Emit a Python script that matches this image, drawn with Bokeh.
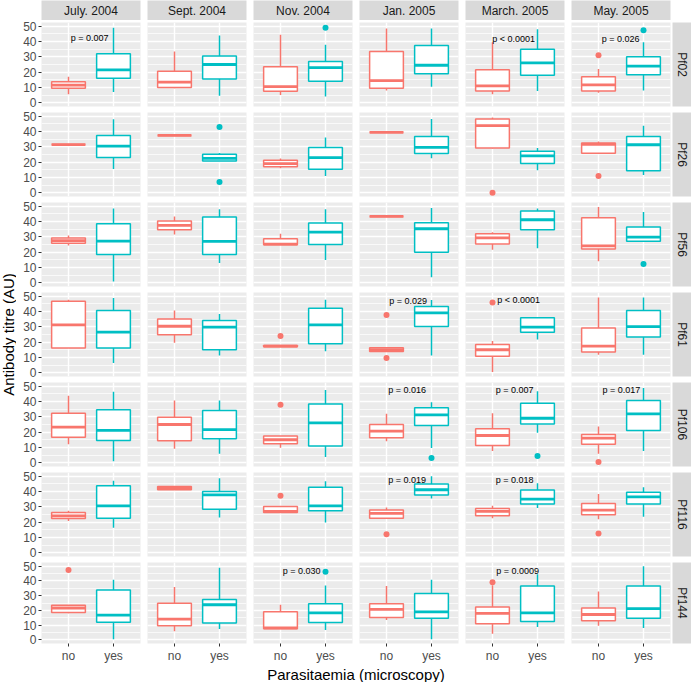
import math
from bokeh.plotting import figure
from bokeh.models import FactorRange, Range1d, SingleIntervalTicker, Label, ColumnDataSource
from bokeh.layouts import row, column, gridplot
from bokeh.embed import file_html
from bokeh.resources import INLINE
from bokeh.core.properties import value

# ---------------- data ----------------
months = ["July. 2004", "Sept. 2004", "Nov. 2004", "Jan. 2005", "March. 2005", "May. 2005"]
antigens = ["Pf02", "Pf26", "Pf56", "Pf61", "Pf106", "Pf116", "Pf144"]
groups = ["no", "yes"]

# five-number boxplot summaries per month: [lower whisker, Q1, median, Q3, upper whisker]
pf02_no = [[5.5, 9.5, 11.5, 13.7, 17], [9.5, 10, 13.5, 20.5, 33.5], [5, 7.5, 10.5, 23.5, 44.5],
           [8, 9.5, 14.5, 33.5, 48.5], [5.5, 7.7, 11, 21.5, 39.5], [6.5, 7.7, 11.7, 17, 22]]
pf02_yes = [[7, 16, 21.5, 32, 49], [4.5, 15.5, 25, 30.5, 44], [4, 14, 23, 27, 38],
            [10.5, 19, 24.5, 37.5, 48.5], [7.7, 18, 26, 35, 48], [8, 18.3, 24, 30, 39.5]]
pf26_no = [[31.5, 31.5, 31.5, 31.5, 31.5], [37.5, 37.5, 37.5, 37.5, 37.5], [16, 17, 19, 21.3, 22.4],
           [39.5, 39.5, 39.5, 39.5, 39.5], [29, 29.2, 43.9, 48.2, 49.3], [25.9, 25.9, 31.6, 32.5, 33.5]]
pf26_yes = [[15.5, 23, 30.5, 37.5, 48], [20.8, 20.8, 22.4, 25.2, 26], [11, 15.4, 23, 29.6, 36.2],
            [22.6, 25.7, 29.6, 36.8, 48.2], [14.7, 19.1, 24.1, 27.2, 29.2], [11.6, 14.3, 31.4, 36.8, 43.9]]
pf56_no = [[24.3, 25.9, 27.6, 29.2, 30.9], [31.6, 34.6, 37.5, 40.4, 43.4], [24.8, 24.8, 25.2, 28.7, 32],
           [43.4, 43.4, 43.4, 43.4, 43.4], [21.5, 25.4, 29.4, 32, 33.1], [14, 22.1, 24.1, 42.5, 49.6]]
pf56_yes = [[0.7, 18.4, 27.2, 38.6, 48.5], [12.9, 18.4, 27, 43, 48], [14.9, 25, 33.1, 39, 48],
            [3.5, 20, 35.3, 39.3, 48.9], [22.6, 34.6, 41.2, 46.9, 48.5], [27.2, 27.2, 29.8, 36.4, 46.3]]
pf61_no = [[16.1, 16.1, 31.3, 46.7, 47.8], [19.6, 24.8, 30.4, 35.2, 40.7], [17, 17, 17.4, 17.8, 17.8],
           [13.9, 13.9, 15, 16.3, 16.3], [0.4, 10.7, 15, 18.5, 20.7], [11.7, 13.5, 17.4, 29.3, 49.3]]
pf61_yes = [[6.3, 16.1, 26.5, 40.7, 48.9], [11.3, 15, 29.8, 34.1, 38.5], [14.1, 18.9, 31.3, 42.2, 47.8],
            [11.3, 30.2, 39.1, 43.3, 47.6], [21.7, 26.5, 29.8, 35.9, 35.9], [11.7, 23.3, 30.2, 40.7, 49.3]]
pf106_no = [[12, 16.7, 23.3, 32.4, 43.9], [9.1, 14.3, 25, 29.8, 40.7], [9.8, 12.4, 15, 17.4, 17.4],
            [14.1, 16.3, 20.7, 25, 32], [7.6, 11.3, 17.8, 22.2, 32.4], [5.9, 12, 16.1, 18.5, 23.7]]
pf106_yes = [[0.9, 14.6, 21.1, 34.6, 46.5], [5.9, 15.7, 21.7, 34.1, 40.7], [3.7, 10.9, 26.1, 38.5, 47.6],
             [9.6, 24.3, 31.3, 35.9, 39.6], [19.6, 25.4, 29.1, 38.9, 46.7], [7.6, 21.1, 32, 40.7, 48.9]]
pf116_no = [[20.8, 22.4, 24.1, 26.3, 27.4], [41.2, 41.2, 42.3, 43.4, 43.4], [26.3, 26.3, 27, 30.3, 30.3],
            [22.6, 22.6, 25.7, 27.9, 29.6], [22.6, 24.1, 27, 28.9, 30.7], [21.9, 24.8, 27.9, 32.2, 38.4]]
pf116_yes = [[16.4, 22.6, 30.7, 43.9, 47.1], [23, 28.5, 37.9, 40.1, 48.7], [19.7, 27.4, 30.7, 42.8, 46.7],
             [35.5, 37.7, 41.2, 45, 50], [29.2, 31.8, 35.1, 41, 45.4], [23.5, 31.8, 36.6, 39.5, 42.8]]
pf144_no = [[18, 18.6, 21.6, 23.4, 23.4], [5.9, 9.6, 14, 24.9, 35.8], [7.6, 7.6, 8.1, 19, 23.8],
            [13.5, 15.1, 20.7, 24.5, 36.5], [4.1, 10.9, 17.9, 22.3, 37], [9.6, 12.9, 17.2, 21.6, 32.8]]
pf144_yes = [[0.4, 12, 16.8, 33.8, 40.8], [7.4, 11.4, 23.8, 27.3, 48.9], [6.6, 11.8, 18.3, 24.5, 36.9],
             [0.4, 14.6, 19, 31.4, 40.8], [8.7, 12.4, 18.3, 36.5, 44.5], [8.1, 14.6, 21.2, 36.5, 50]]

# outliers
out_antigen = ["Pf02", "Pf02", "Pf02", "Pf26", "Pf26", "Pf26", "Pf26", "Pf56", "Pf61", "Pf61", "Pf61", "Pf61",
               "Pf106", "Pf106", "Pf106", "Pf106", "Pf116", "Pf116", "Pf116", "Pf144", "Pf144", "Pf144"]
out_month = ["Nov. 2004", "May. 2005", "May. 2005", "Sept. 2004", "Sept. 2004", "March. 2005", "May. 2005",
             "May. 2005", "Nov. 2004", "Jan. 2005", "Jan. 2005", "March. 2005",
             "Nov. 2004", "Jan. 2005", "March. 2005", "May. 2005", "Nov. 2004", "Jan. 2005", "May. 2005",
             "July. 2004", "Nov. 2004", "March. 2005"]
out_group = ["yes", "no", "yes", "yes", "yes", "no", "no", "yes", "no", "no", "no", "no",
             "no", "yes", "yes", "no", "no", "no", "no", "no", "yes", "no"]
out_value = [49, 31, 47.5, 43, 7, 0, 11, 12.3, 24, 37.8, 9.6, 46,
             38, 3, 4.3, 0.4, 37.3, 12, 12.5, 47.4, 46.3, 39.1]

# p-value annotations (x in category-axis units: 1.0 = midway between "no" and "yes")
p_antigen = ["Pf02", "Pf02", "Pf02", "Pf61", "Pf61", "Pf106", "Pf106", "Pf106", "Pf116", "Pf116", "Pf144", "Pf144"]
p_month = ["July. 2004", "March. 2005", "May. 2005", "Jan. 2005", "March. 2005", "Jan. 2005", "March. 2005",
           "May. 2005", "Jan. 2005", "March. 2005", "Nov. 2004", "March. 2005"]
p_text = ["p = 0.007", "p < 0.0001", "p = 0.026", "p = 0.029", "p < 0.0001", "p = 0.016", "p = 0.007",
          "p = 0.017", "p = 0.019", "p = 0.018", "p = 0.030", "p = 0.0009"]
p_x = [0.97, 0.97, 0.99, 0.98, 1.08, 0.96, 0.99, 1.01, 0.96, 0.99, 0.97, 1.06]
p_y = [42.5, 42, 42, 47, 47.5, 47.5, 47.5, 47.5, 47.8, 47.8, 46.5, 47]

summaries = {"Pf02": (pf02_no, pf02_yes), "Pf26": (pf26_no, pf26_yes), "Pf56": (pf56_no, pf56_yes),
             "Pf61": (pf61_no, pf61_yes), "Pf106": (pf106_no, pf106_yes), "Pf116": (pf116_no, pf116_yes),
             "Pf144": (pf144_no, pf144_yes)}

# ---------------- style ----------------
RED, TEAL = "#F8766D", "#00BFC4"
COLORS = {"no": RED, "yes": TEAL}
FONT = "Liberation Sans"
FW, FH = 99, 84
NR, NC = len(antigens), len(months)
STRIP_H, STRIP_W = 20, 19
YLAB_W, XLAB_H = 16, 17
LW, MW = 1.5, 2.8


def hb(c):
    left = 25 if c == 0 else 4
    right = 2 if c == NC - 1 else 3
    return left, right


def vb(r):
    top = 2 if r == 0 else 3
    bottom = 19 if r == NR - 1 else 3
    return top, bottom


def panel(r, c):
    ant, mon = antigens[r], months[c]
    l, rt = hb(c)
    t, b = vb(r)
    p = figure(width=l + FW + rt, height=t + FH + b,
               x_range=FactorRange(factors=groups, range_padding=0.1, range_padding_units="absolute"),
               y_range=Range1d(-2.5, 52.5), output_backend="svg", toolbar_location=None, tools="",
               title=None,
               x_axis_location="below" if r == NR - 1 else None,
               y_axis_location="left" if c == 0 else None,
               min_border_left=l, min_border_right=rt, min_border_top=t, min_border_bottom=b,
               background_fill_color="#EBEBEB", border_fill_color="white", outline_line_color=None)
    p.ygrid.ticker = SingleIntervalTicker(interval=10, num_minor_ticks=2)
    p.ygrid.grid_line_color = "white"
    p.ygrid.grid_line_width = 1.4
    p.ygrid.minor_grid_line_color = "white"
    p.ygrid.minor_grid_line_width = 0.7
    p.xgrid.grid_line_color = "white"
    p.xgrid.grid_line_width = 1.4
    for ax in list(p.yaxis) + list(p.xaxis):
        ax.axis_line_color = None
        ax.major_tick_line_color = "#333333"
        ax.major_tick_in = 0
        ax.major_tick_out = 3
        ax.minor_tick_line_color = None
        ax.major_label_text_font = FONT
        ax.major_label_text_font_size = "12px"
        ax.major_label_text_color = "#4D4D4D"
        ax.major_label_standoff = 2
    if c == 0:
        p.yaxis[0].ticker = SingleIntervalTicker(interval=10, num_minor_ticks=0)

    no_s, yes_s = summaries[ant]
    sno, syes = no_s[c], yes_s[c]
    src = ColumnDataSource(dict(
        g=groups,
        lw=[sno[0], syes[0]], q1=[sno[1], syes[1]], med=[sno[2], syes[2]],
        q3=[sno[3], syes[3]], uw=[sno[4], syes[4]], color=[RED, TEAL]))
    p.segment(x0="g", y0="q3", x1="g", y1="uw", line_color="color", line_width=LW, source=src)
    p.segment(x0="g", y0="lw", x1="g", y1="q1", line_color="color", line_width=LW, source=src)
    p.vbar(x="g", width=0.75, bottom="q1", top="q3", fill_color="white", line_color="color",
           line_width=LW, source=src)
    p.vbar(x="g", width=0.75, bottom="med", top="med", fill_color=None, line_color="color",
           line_width=MW, source=src)

    ox = [g for a, m, g in zip(out_antigen, out_month, out_group) if a == ant and m == mon]
    oy = [v for a, m, v in zip(out_antigen, out_month, out_value) if a == ant and m == mon]
    if ox:
        p.scatter(x=ox, y=oy, size=6, color=[COLORS[g] for g in ox], line_color=None)

    for a, m, t_, x_, y_ in zip(p_antigen, p_month, p_text, p_x, p_y):
        if a == ant and m == mon:
            p.text(x=[x_], y=[y_], text=[t_], text_font=value(FONT), text_font_size="9px",
                   text_align="center", text_baseline="middle", text_color="black")
    return p


def blank(width, height, l=0, rt=0, t=0, b=0, bg="white"):
    p = figure(width=width, height=height, x_range=Range1d(0, width - l - rt), y_range=Range1d(0, height - t - b),
               output_backend="svg", toolbar_location=None, tools="", title=None,
               x_axis_location=None, y_axis_location=None,
               min_border_left=l, min_border_right=rt, min_border_top=t, min_border_bottom=b,
               background_fill_color=bg, border_fill_color="white", outline_line_color=None)
    p.grid.visible = False
    return p


rows_ = []
top_row = []
for c, m in enumerate(months):
    l, rt = hb(c)
    s = blank(l + FW + rt, STRIP_H, l=l, rt=rt, bg="#D9D9D9")
    s.add_layout(Label(x=FW / 2, y=STRIP_H / 2, text=m, text_align="center", text_baseline="middle",
                       text_font=FONT, text_font_size="12px", text_color="#1A1A1A"))
    top_row.append(s)
top_row.append(None)
rows_.append(top_row)

for r, a in enumerate(antigens):
    rr = [panel(r, c) for c in range(NC)]
    t, b = vb(r)
    s = blank(STRIP_W, t + FH + b, t=t, b=b, bg="#D9D9D9")
    s.add_layout(Label(x=STRIP_W / 2, y=FH / 2, text=a, text_align="center", text_baseline="middle",
                       angle=-math.pi / 2, text_font=FONT, text_font_size="12px", text_color="#1A1A1A"))
    rr.append(s)
    rows_.append(rr)

grid = gridplot(rows_, toolbar_location=None)

grid_w = sum(hb(c)[0] + FW + hb(c)[1] for c in range(NC)) + STRIP_W
grid_h = STRIP_H + sum(vb(r)[0] + FH + vb(r)[1] for r in range(NR))

# y-axis title
ylab = blank(YLAB_W, grid_h)
panels_top = STRIP_H + vb(0)[0]
panels_bottom = grid_h - vb(NR - 1)[1]
ylab.add_layout(Label(x=YLAB_W / 2, y=grid_h - (panels_top + panels_bottom) / 2, text="Antibody titre (AU)",
                      text_align="center", text_baseline="middle", angle=math.pi / 2,
                      text_font=FONT, text_font_size="15px", text_color="black"))

# x-axis title
xlab = blank(YLAB_W + grid_w, XLAB_H)
left_px = YLAB_W + hb(0)[0]
right_px = YLAB_W + grid_w - STRIP_W - hb(NC - 1)[1]
xlab.add_layout(Label(x=(left_px + right_px) / 2, y=XLAB_H / 2, text="Parasitaemia (microscopy)",
                      text_align="center", text_baseline="middle",
                      text_font=FONT, text_font_size="15px", text_color="black"))

layout = column(row(ylab, grid), xlab)

open("out.html", "w").write(file_html(layout, INLINE))
